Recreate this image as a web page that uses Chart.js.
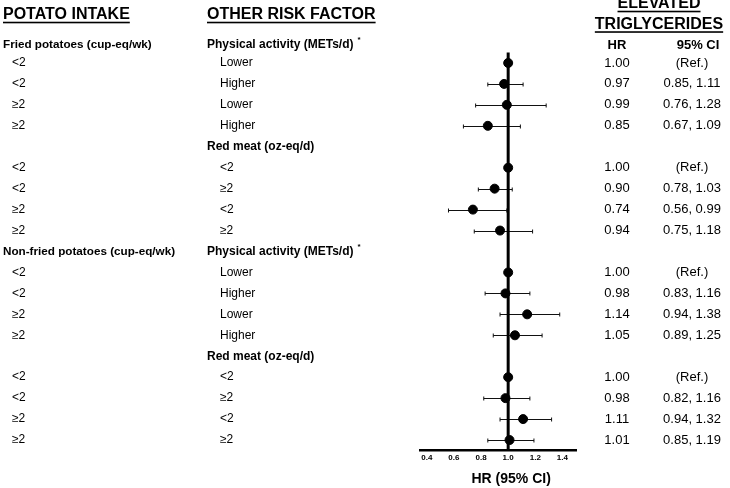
<!DOCTYPE html>
<html lang="en">
<head>
<meta charset="UTF-8" />
<title>Potato intake, other risk factors and elevated triglycerides</title>
<script src="https://cdn.jsdelivr.net/npm/chart.js@4"></script>
<style>
  body { margin: 0; background: #fff; }
  canvas { display: block; }
</style>
</head>
<body>
<canvas id="forest" width="730" height="488"></canvas>
<script>
// one entry per table row with an estimate (row numbers count from the first group header)
const rowIndex = [1, 2, 3, 4, 6, 7, 8, 9, 11, 12, 13, 14, 16, 17, 18, 19];
const potatoIntake = ['<2', '<2', '≥2', '≥2', '<2', '<2', '≥2', '≥2', '<2', '<2', '≥2', '≥2', '<2', '<2', '≥2', '≥2'];
const otherFactor = ['Lower', 'Higher', 'Lower', 'Higher', '<2', '≥2', '<2', '≥2', 'Lower', 'Higher', 'Lower', 'Higher', '<2', '≥2', '<2', '≥2'];
const hr = [1.00, 0.97, 0.99, 0.85, 1.00, 0.90, 0.74, 0.94, 1.00, 0.98, 1.14, 1.05, 1.00, 0.98, 1.11, 1.01];
const ciLow = [null, 0.85, 0.76, 0.67, null, 0.78, 0.56, 0.75, null, 0.83, 0.94, 0.89, null, 0.82, 0.94, 0.85];
const ciHigh = [null, 1.11, 1.28, 1.09, null, 1.03, 0.99, 1.18, null, 1.16, 1.38, 1.25, null, 1.16, 1.32, 1.19];

// group header rows
const potatoGroups = ['Fried potatoes (cup-eq/wk)', 'Non-fried potatoes (cup-eq/wk)'];
const potatoGroupRows = [0.15, 10];
const factorGroups = ['Physical activity (METs/d)', 'Red meat (oz-eq/d)', 'Physical activity (METs/d)', 'Red meat (oz-eq/d)'];
const factorGroupRows = [0.15, 5, 10, 15];
const starredGroups = [0, 2];

const xTicks = [0.4, 0.6, 0.8, 1.0, 1.2, 1.4];

const FAM = '"Liberation Sans", Arial, Helvetica, sans-serif';

function text(ctx, str, x, y, size, bold, align) {
  ctx.font = (bold ? 'bold ' : '') + size + 'px ' + FAM;
  ctx.textAlign = align || 'left';
  ctx.textBaseline = 'middle';
  ctx.fillText(str, x, y);
  return ctx.measureText(str).width;
}

function underlined(ctx, str, x, y, size, align) {
  const w = text(ctx, str, x, y, size, true, align);
  const x0 = align === 'center' ? x - w / 2 : x;
  ctx.fillRect(x0, y + size * 0.42, w, 1.6);
}

const forestPlugin = {
  id: 'forest',
  beforeDatasetsDraw(chart) {
    const { ctx, chartArea, scales: { x, y } } = chart;
    ctx.save();
    // confidence intervals
    ctx.strokeStyle = '#111';
    ctx.lineWidth = 1;
    rowIndex.forEach((r, i) => {
      if (ciLow[i] == null) return;
      const py = Math.round(y.getPixelForValue(r)) + 0.5;
      const x0 = x.getPixelForValue(ciLow[i]);
      const x1 = x.getPixelForValue(ciHigh[i]);
      ctx.beginPath();
      ctx.moveTo(x0, py); ctx.lineTo(x1, py);
      ctx.moveTo(x0, py - 2); ctx.lineTo(x0, py + 2);
      ctx.moveTo(x1, py - 2); ctx.lineTo(x1, py + 2);
      ctx.stroke();
    });
    // line of no effect
    const px = x.getPixelForValue(1);
    ctx.strokeStyle = '#000';
    ctx.lineWidth = 3;
    ctx.beginPath();
    ctx.moveTo(px, chartArea.top);
    ctx.lineTo(px, chartArea.bottom);
    ctx.stroke();
    ctx.restore();
  },
  afterDraw(chart) {
    const { ctx, scales: { x, y } } = chart;
    ctx.save();
    ctx.fillStyle = '#000';

    // column titles
    underlined(ctx, 'POTATO INTAKE', 3, 15, 16, 'left');
    underlined(ctx, 'OTHER RISK FACTOR', 207, 15, 16, 'left');
    underlined(ctx, 'ELEVATED', 659, 4, 16, 'center');
    underlined(ctx, 'TRIGLYCERIDES', 659, 24.5, 16, 'center');

    const headY = y.getPixelForValue(potatoGroupRows[0]);
    text(ctx, 'HR', 617, headY, 13, true, 'center');
    text(ctx, '95% CI', 698, headY, 13, true, 'center');

    potatoGroups.forEach((g, i) => {
      text(ctx, g, 3, y.getPixelForValue(potatoGroupRows[i]), 11.7, true);
    });
    factorGroups.forEach((g, i) => {
      const gy = y.getPixelForValue(factorGroupRows[i]);
      const w = text(ctx, g, 207, gy, 12, true);
      if (starredGroups.includes(i)) text(ctx, '*', 207 + w + 4, gy - 5, 8, true);
    });

    rowIndex.forEach((r, i) => {
      const ry = y.getPixelForValue(r);
      text(ctx, potatoIntake[i], 12, ry, 12, false);
      text(ctx, otherFactor[i], 220, ry, 12, false);
      text(ctx, hr[i].toFixed(2), 617, ry, 13, false, 'center');
      const ci = ciLow[i] == null ? '(Ref.)' : ciLow[i].toFixed(2) + ', ' + ciHigh[i].toFixed(2);
      text(ctx, ci, 692, ry, 13, false, 'center');
    });

    // axis title
    text(ctx, 'HR (95% CI)', x.getPixelForValue(1) + 3, 479, 14, true, 'center');
    ctx.restore();
  }
};

new Chart(document.getElementById('forest'), {
  type: 'scatter',
  data: {
    datasets: [{
      data: rowIndex.map((r, i) => ({ x: hr[i], y: r })),
      backgroundColor: '#000',
      borderColor: '#000',
      pointRadius: 4.5,
      pointHoverRadius: 4.5
    }]
  },
  options: {
    responsive: false,
    animation: false,
    events: [],
    layout: { padding: { left: 420, right: 154, top: 52.5, bottom: 0 } },
    plugins: { legend: { display: false }, tooltip: { enabled: false } },
    scales: {
      x: {
        type: 'linear',
        min: 0.35,
        max: 1.5,
        afterBuildTicks: (scale) => { scale.ticks = xTicks.map(v => ({ value: v })); },
        afterFit: (scale) => { scale.height = 37.5; },
        grid: { display: false, drawTicks: false },
        border: { display: true, color: '#000', width: 2.5 },
        ticks: {
          color: '#000',
          padding: 2,
          maxRotation: 0,
          autoSkip: false,
          font: { family: FAM, size: 8, weight: 'bold' },
          callback: (v) => Number(v).toFixed(1)
        }
      },
      y: {
        type: 'linear',
        display: false,
        reverse: true,
        min: 0.5,
        max: 19.5
      }
    }
  },
  plugins: [forestPlugin]
});
</script>
</body>
</html>
